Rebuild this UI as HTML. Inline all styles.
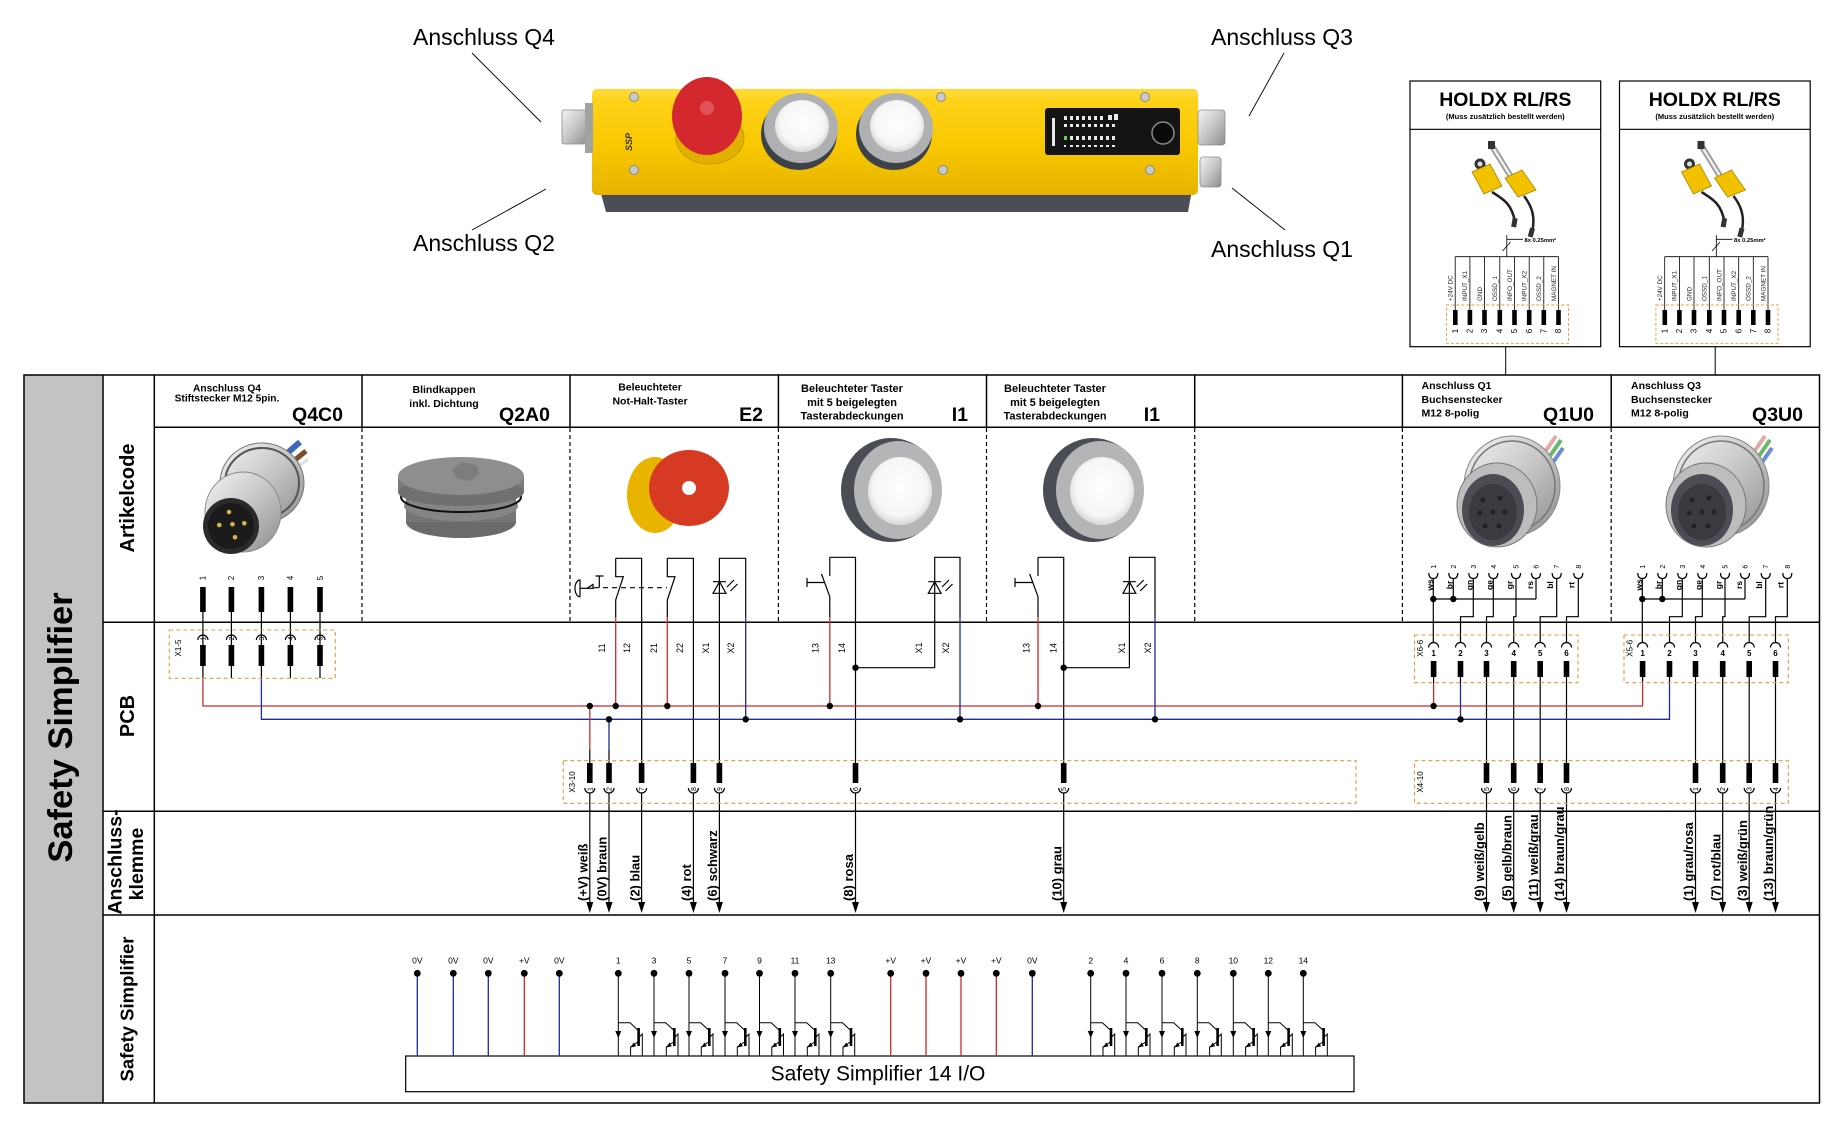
<!DOCTYPE html>
<html><head><meta charset="utf-8">
<style>
html,body{margin:0;padding:0;background:#fff;width:1840px;height:1126px;overflow:hidden}
svg{display:block}
text{font-family:"Liberation Sans",Arial,sans-serif}
</style></head><body>
<svg xmlns="http://www.w3.org/2000/svg" width="1840" height="1126" viewBox="0 0 1840 1126">
<defs>
 <linearGradient id="yel" x1="0" y1="0" x2="0" y2="1"><stop offset="0" stop-color="#ffd51f"/><stop offset="0.55" stop-color="#f8c700"/><stop offset="1" stop-color="#e6b400"/></linearGradient>
 <linearGradient id="silv" x1="0" y1="0" x2="1" y2="1"><stop offset="0" stop-color="#f4f4f4"/><stop offset="0.5" stop-color="#c6c6c6"/><stop offset="1" stop-color="#8c8c8c"/></linearGradient>
 <radialGradient id="wht" cx="0.5" cy="0.45" r="0.55"><stop offset="0" stop-color="#ffffff"/><stop offset="0.75" stop-color="#f6f6f6"/><stop offset="1" stop-color="#d8d8d8"/></radialGradient>
 <g id="tr" fill="none" stroke="#000" stroke-width="1">
  <line x1="0" y1="973" x2="0" y2="1056"/>
  <polyline points="0,1022.7 11.7,1022.7 19.5,1030"/>
  <polyline points="21,1037 24,1034 24,1056"/>
  <polyline points="21,1041 12.3,1047 12.3,1056"/>
  <polygon points="-3,1031 3,1031 0,1038" fill="#000" stroke="none"/>
  <rect x="19" y="1028" width="2.6" height="18" fill="#000" stroke="none"/>
  <polygon points="12.3,1047.5 15.5,1042.5 17.8,1046.2" fill="#000" stroke="none"/>
 </g>
</defs>
<rect width="1840" height="1126" fill="#fff"/>

<!-- ================= TOP PRODUCT ================= -->
<g font-size="23" fill="#000">
 <text x="484" y="45" text-anchor="middle">Anschluss Q4</text>
 <text x="484" y="251" text-anchor="middle">Anschluss Q2</text>
 <text x="1282" y="45" text-anchor="middle">Anschluss Q3</text>
 <text x="1282" y="257" text-anchor="middle">Anschluss Q1</text>
</g>
<g stroke="#000" stroke-width="0.9">
 <line x1="472" y1="53" x2="541" y2="122"/>
 <line x1="546" y1="189" x2="472" y2="230"/>
 <line x1="1284" y1="53" x2="1249" y2="116"/>
 <line x1="1232" y1="188" x2="1285" y2="230"/>
</g>
<path d="M600 190 L1192 190 L1188 212 L606 212 Z" fill="#4b4f55"/>
<rect x="592" y="89" width="606" height="106" rx="5" fill="url(#yel)"/>
<rect x="592" y="89" width="606" height="8" rx="4" fill="#ffdc40" opacity="0.6"/>
<rect x="562" y="110" width="26" height="34" rx="2" fill="url(#silv)" stroke="#8a8a8a" stroke-width="0.8"/>
<rect x="585" y="103" width="8" height="50" fill="#a2a2a2"/>
<rect x="1198" y="110" width="27" height="35" rx="3" fill="url(#silv)" stroke="#8a8a8a" stroke-width="0.8"/>
<rect x="1200" y="157" width="21" height="30" rx="3" fill="url(#silv)" stroke="#8a8a8a" stroke-width="0.8"/>
<g fill="#c9c9c9" stroke="#8a8a8a" stroke-width="1">
 <circle cx="634" cy="97" r="4.5"/><circle cx="634" cy="170" r="4.5"/>
 <circle cx="941" cy="97" r="4.5"/><circle cx="943" cy="170" r="4.5"/>
 <circle cx="1145" cy="97" r="4.5"/><circle cx="1150" cy="170" r="4.5"/>
</g>
<text transform="translate(632 142) rotate(-90)" font-size="9" font-weight="bold" font-style="italic" fill="#333" text-anchor="middle">SSP</text>
<ellipse cx="710" cy="138" rx="34" ry="26" fill="#e2b000" stroke="#c79b00" stroke-width="1"/>
<ellipse cx="707" cy="116" rx="35" ry="39" fill="#d3282d"/>
<circle cx="707" cy="108" r="7" fill="#e25358"/>
<ellipse cx="799" cy="134" rx="38" ry="36" fill="#3e4248"/>
<ellipse cx="801" cy="128" rx="37" ry="35" fill="#aeb0b2"/>
<ellipse cx="802" cy="126" rx="27" ry="26" fill="url(#wht)"/>
<ellipse cx="894" cy="134" rx="38" ry="36" fill="#3e4248"/>
<ellipse cx="896" cy="128" rx="37" ry="35" fill="#aeb0b2"/>
<ellipse cx="897" cy="126" rx="27" ry="26" fill="url(#wht)"/>
<rect x="1045" y="108" width="135" height="47" rx="3" fill="#141414"/>
<g fill="#e8e8e8">
 <rect x="1064" y="116" width="3" height="4"/><rect x="1070" y="116" width="3" height="4"/><rect x="1076" y="116" width="3" height="4"/><rect x="1082" y="116" width="3" height="4"/><rect x="1088" y="116" width="3" height="4"/><rect x="1094" y="116" width="3" height="4"/><rect x="1100" y="116" width="3" height="4"/><rect x="1108" y="115" width="4" height="5"/><rect x="1114" y="114" width="4" height="6"/>
 <rect x="1064" y="124" width="3" height="3"/><rect x="1070" y="124" width="3" height="3"/><rect x="1076" y="124" width="3" height="3"/><rect x="1082" y="124" width="3" height="3"/><rect x="1088" y="124" width="3" height="3"/><rect x="1094" y="124" width="3" height="3"/><rect x="1100" y="124" width="3" height="3"/><rect x="1106" y="124" width="3" height="3"/><rect x="1112" y="124" width="3" height="3"/>
 <rect x="1070" y="136" width="3" height="4"/><rect x="1076" y="136" width="3" height="4"/><rect x="1082" y="136" width="3" height="4"/><rect x="1088" y="136" width="3" height="4"/><rect x="1094" y="136" width="3" height="4"/><rect x="1100" y="136" width="3" height="4"/><rect x="1106" y="136" width="3" height="4"/><rect x="1112" y="136" width="3" height="4"/>
 <rect x="1064" y="145" width="2" height="2"/><rect x="1070" y="145" width="3" height="2"/><rect x="1076" y="145" width="3" height="2"/><rect x="1082" y="145" width="3" height="2"/><rect x="1088" y="145" width="3" height="2"/><rect x="1094" y="145" width="3" height="2"/><rect x="1100" y="145" width="3" height="2"/><rect x="1106" y="145" width="3" height="2"/><rect x="1112" y="145" width="3" height="2"/>
 <rect x="1052" y="118" width="3" height="28"/>
</g>
<rect x="1064" y="136" width="3" height="4" fill="#5ad24a"/>
<circle cx="1163" cy="133" r="11" fill="#0a0a0a" stroke="#8a8a8a" stroke-width="1.5"/>

<!-- ================= HOLDX BOXES ================= -->
<g transform="translate(1410 0)">
 <rect x="0" y="81" width="190.7" height="265.7" fill="#fff" stroke="#000" stroke-width="1.2"/>
 <line x1="0" y1="129.3" x2="190.7" y2="129.3" stroke="#000" stroke-width="1.2"/>
 <text x="95.3" y="106" font-size="19.5" font-weight="bold" text-anchor="middle">HOLDX RL/RS</text>
 <text x="95.3" y="119" font-size="7.5" font-weight="bold" text-anchor="middle">(Muss zusätzlich bestellt werden)</text>
 <line x1="82" y1="146" x2="103" y2="180" stroke="#9a9a9a" stroke-width="6"/>
 <line x1="82" y1="146" x2="103" y2="180" stroke="#eeeeee" stroke-width="2.5"/>
 <rect x="78" y="141" width="7" height="8" fill="#333"/>
 <circle cx="70" cy="164" r="5.5" fill="#333"/>
 <circle cx="70" cy="164" r="2.5" fill="#ddd"/>
 <polygon points="62,172 80,164 92,186 74,194" fill="#f2c200" stroke="#a88500" stroke-width="0.8"/>
 <polygon points="95,178 112,170 126,190 108,197" fill="#f2c200" stroke="#a88500" stroke-width="0.8"/>
 <path d="M82 192 C95 200 102 205 105 222" fill="none" stroke="#222" stroke-width="2.5"/>
 <path d="M114 196 C121 205 126 216 122 232" fill="none" stroke="#222" stroke-width="2.5"/>
 <rect x="102" y="218" width="5" height="9" fill="#333" transform="rotate(10 104 222)"/>
 <rect x="119" y="228" width="5" height="9" fill="#333" transform="rotate(15 121 232)"/>
 <g stroke="#000" stroke-width="0.8" fill="none">
  <line x1="96.8" y1="235" x2="96.8" y2="256.7"/>
  <line x1="92.5" y1="251" x2="100.5" y2="242"/>
  <line x1="96.8" y1="239.3" x2="113" y2="239.3"/>
  <line x1="45.2" y1="256.7" x2="148.5" y2="256.7"/>
  <line x1="45.2" y1="256.7" x2="45.2" y2="312"/><line x1="59.9" y1="256.7" x2="59.9" y2="312"/><line x1="74.5" y1="256.7" x2="74.5" y2="312"/><line x1="89.8" y1="256.7" x2="89.8" y2="312"/><line x1="104.5" y1="256.7" x2="104.5" y2="312"/><line x1="119.2" y1="256.7" x2="119.2" y2="312"/><line x1="133.8" y1="256.7" x2="133.8" y2="312"/><line x1="148.5" y1="256.7" x2="148.5" y2="312"/>
 </g>
 <text x="114.5" y="242" font-size="5.8" font-weight="bold">8x 0.25mm²</text>
 <g font-size="6.3" fill="#222">
  <text transform="translate(42.5 301) rotate(-90)">+24V DC</text>
  <text transform="translate(57.2 301) rotate(-90)">INPUT_X1</text>
  <text transform="translate(71.8 301) rotate(-90)">GND</text>
  <text transform="translate(87.1 301) rotate(-90)">OSSD_1</text>
  <text transform="translate(101.8 301) rotate(-90)">INFO_OUT</text>
  <text transform="translate(116.5 301) rotate(-90)">INPUT_X2</text>
  <text transform="translate(131.1 301) rotate(-90)">OSSD_2</text>
  <text transform="translate(145.8 301) rotate(-90)">MAGNET IN</text>
 </g>
 <rect x="36.4" y="305" width="122.1" height="38.3" fill="none" stroke="#e39a3b" stroke-width="0.9" stroke-dasharray="3 2"/>
 <g fill="#000">
  <rect x="43" y="310" width="4.6" height="15"/><rect x="57.6" y="310" width="4.6" height="15"/><rect x="72.2" y="310" width="4.6" height="15"/><rect x="87.5" y="310" width="4.6" height="15"/><rect x="102.2" y="310" width="4.6" height="15"/><rect x="116.9" y="310" width="4.6" height="15"/><rect x="131.5" y="310" width="4.6" height="15"/><rect x="146.2" y="310" width="4.6" height="15"/>
 </g>
 <g font-size="8" text-anchor="middle">
  <text transform="translate(47.8 331) rotate(-90)">1</text><text transform="translate(62.5 331) rotate(-90)">2</text><text transform="translate(77.1 331) rotate(-90)">3</text><text transform="translate(92.4 331) rotate(-90)">4</text><text transform="translate(107.1 331) rotate(-90)">5</text><text transform="translate(121.8 331) rotate(-90)">6</text><text transform="translate(136.4 331) rotate(-90)">7</text><text transform="translate(151.1 331) rotate(-90)">8</text>
 </g>
 <line x1="95.7" y1="346.7" x2="95.7" y2="375" stroke="#000" stroke-width="1"/>
</g>
<g transform="translate(1619.5 0)">
 <rect x="0" y="81" width="190.7" height="265.7" fill="#fff" stroke="#000" stroke-width="1.2"/>
 <line x1="0" y1="129.3" x2="190.7" y2="129.3" stroke="#000" stroke-width="1.2"/>
 <text x="95.3" y="106" font-size="19.5" font-weight="bold" text-anchor="middle">HOLDX RL/RS</text>
 <text x="95.3" y="119" font-size="7.5" font-weight="bold" text-anchor="middle">(Muss zusätzlich bestellt werden)</text>
 <line x1="82" y1="146" x2="103" y2="180" stroke="#9a9a9a" stroke-width="6"/>
 <line x1="82" y1="146" x2="103" y2="180" stroke="#eeeeee" stroke-width="2.5"/>
 <rect x="78" y="141" width="7" height="8" fill="#333"/>
 <circle cx="70" cy="164" r="5.5" fill="#333"/>
 <circle cx="70" cy="164" r="2.5" fill="#ddd"/>
 <polygon points="62,172 80,164 92,186 74,194" fill="#f2c200" stroke="#a88500" stroke-width="0.8"/>
 <polygon points="95,178 112,170 126,190 108,197" fill="#f2c200" stroke="#a88500" stroke-width="0.8"/>
 <path d="M82 192 C95 200 102 205 105 222" fill="none" stroke="#222" stroke-width="2.5"/>
 <path d="M114 196 C121 205 126 216 122 232" fill="none" stroke="#222" stroke-width="2.5"/>
 <rect x="102" y="218" width="5" height="9" fill="#333" transform="rotate(10 104 222)"/>
 <rect x="119" y="228" width="5" height="9" fill="#333" transform="rotate(15 121 232)"/>
 <g stroke="#000" stroke-width="0.8" fill="none">
  <line x1="96.8" y1="235" x2="96.8" y2="256.7"/>
  <line x1="92.5" y1="251" x2="100.5" y2="242"/>
  <line x1="96.8" y1="239.3" x2="113" y2="239.3"/>
  <line x1="45.2" y1="256.7" x2="148.5" y2="256.7"/>
  <line x1="45.2" y1="256.7" x2="45.2" y2="312"/><line x1="59.9" y1="256.7" x2="59.9" y2="312"/><line x1="74.5" y1="256.7" x2="74.5" y2="312"/><line x1="89.8" y1="256.7" x2="89.8" y2="312"/><line x1="104.5" y1="256.7" x2="104.5" y2="312"/><line x1="119.2" y1="256.7" x2="119.2" y2="312"/><line x1="133.8" y1="256.7" x2="133.8" y2="312"/><line x1="148.5" y1="256.7" x2="148.5" y2="312"/>
 </g>
 <text x="114.5" y="242" font-size="5.8" font-weight="bold">8x 0.25mm²</text>
 <g font-size="6.3" fill="#222">
  <text transform="translate(42.5 301) rotate(-90)">+24V DC</text>
  <text transform="translate(57.2 301) rotate(-90)">INPUT_X1</text>
  <text transform="translate(71.8 301) rotate(-90)">GND</text>
  <text transform="translate(87.1 301) rotate(-90)">OSSD_1</text>
  <text transform="translate(101.8 301) rotate(-90)">INFO_OUT</text>
  <text transform="translate(116.5 301) rotate(-90)">INPUT_X2</text>
  <text transform="translate(131.1 301) rotate(-90)">OSSD_2</text>
  <text transform="translate(145.8 301) rotate(-90)">MAGNET IN</text>
 </g>
 <rect x="36.4" y="305" width="122.1" height="38.3" fill="none" stroke="#e39a3b" stroke-width="0.9" stroke-dasharray="3 2"/>
 <g fill="#000">
  <rect x="43" y="310" width="4.6" height="15"/><rect x="57.6" y="310" width="4.6" height="15"/><rect x="72.2" y="310" width="4.6" height="15"/><rect x="87.5" y="310" width="4.6" height="15"/><rect x="102.2" y="310" width="4.6" height="15"/><rect x="116.9" y="310" width="4.6" height="15"/><rect x="131.5" y="310" width="4.6" height="15"/><rect x="146.2" y="310" width="4.6" height="15"/>
 </g>
 <g font-size="8" text-anchor="middle">
  <text transform="translate(47.8 331) rotate(-90)">1</text><text transform="translate(62.5 331) rotate(-90)">2</text><text transform="translate(77.1 331) rotate(-90)">3</text><text transform="translate(92.4 331) rotate(-90)">4</text><text transform="translate(107.1 331) rotate(-90)">5</text><text transform="translate(121.8 331) rotate(-90)">6</text><text transform="translate(136.4 331) rotate(-90)">7</text><text transform="translate(151.1 331) rotate(-90)">8</text>
 </g>
 <line x1="95.7" y1="346.7" x2="95.7" y2="375" stroke="#000" stroke-width="1"/>
</g>

<!-- ================= TABLE FRAME ================= -->
<rect x="24" y="375" width="79" height="728" fill="#c3c3c3"/>
<g stroke="#000" stroke-width="1.5" fill="none">
 <rect x="24" y="375" width="1795.5" height="728"/>
 <line x1="103" y1="375" x2="103" y2="1103"/>
 <line x1="154.3" y1="375" x2="154.3" y2="1103"/>
 <line x1="154.3" y1="427.3" x2="1819.5" y2="427.3"/>
 <line x1="103" y1="622.3" x2="1819.5" y2="622.3"/>
 <line x1="103" y1="811.3" x2="1819.5" y2="811.3"/>
 <line x1="103" y1="915" x2="1819.5" y2="915"/>
 <line x1="362" y1="375" x2="362" y2="427.3"/>
 <line x1="570" y1="375" x2="570" y2="427.3"/>
 <line x1="778.4" y1="375" x2="778.4" y2="427.3"/>
 <line x1="986.5" y1="375" x2="986.5" y2="427.3"/>
 <line x1="1194.7" y1="375" x2="1194.7" y2="427.3"/>
 <line x1="1402.4" y1="375" x2="1402.4" y2="427.3"/>
 <line x1="1611.2" y1="375" x2="1611.2" y2="427.3"/>
</g>
<g stroke="#000" stroke-width="1.2" stroke-dasharray="4 3">
 <line x1="362" y1="428" x2="362" y2="622"/>
 <line x1="570" y1="428" x2="570" y2="622"/>
 <line x1="778.4" y1="428" x2="778.4" y2="622"/>
 <line x1="986.5" y1="428" x2="986.5" y2="622"/>
 <line x1="1194.7" y1="428" x2="1194.7" y2="622"/>
 <line x1="1402.4" y1="428" x2="1402.4" y2="622"/>
 <line x1="1611.2" y1="428" x2="1611.2" y2="622"/>
</g>
<text transform="translate(72 727.5) rotate(-90)" font-size="34.5" font-weight="bold" text-anchor="middle">Safety Simplifier</text>
<g font-size="20" font-weight="bold" text-anchor="middle">
 <text transform="translate(134 498) rotate(-90)">Artikelcode</text>
 <text transform="translate(134 716) rotate(-90)">PCB</text>
 <text transform="translate(121.5 862) rotate(-90)" font-size="19.5">Anschluss-</text>
 <text transform="translate(143 864) rotate(-90)" font-size="19.5">klemme</text>
 <text transform="translate(133.5 1009) rotate(-90)" font-size="18.5">Safety Simplifier</text>
</g>

<!-- headers -->
<g font-weight="bold" fill="#000">
 <g font-size="10.2" text-anchor="middle">
  <text x="227" y="391.5">Anschluss Q4</text>
  <text x="227" y="401.5">Stiftstecker M12 5pin.</text>
 </g>
 <g font-size="10.5" text-anchor="middle">
  <text x="444" y="393">Blindkappen</text>
  <text x="444" y="407">inkl. Dichtung</text>
  <text x="650" y="390.5">Beleuchteter</text>
  <text x="650" y="404.5">Not-Halt-Taster</text>
 </g>
 <g font-size="11" text-anchor="middle">
  <text x="852" y="392">Beleuchteter Taster</text>
  <text x="852" y="406">mit 5 beigelegten</text>
  <text x="852" y="419.5">Tasterabdeckungen</text>
  <text x="1055" y="392">Beleuchteter Taster</text>
  <text x="1055" y="406">mit 5 beigelegten</text>
  <text x="1055" y="419.5">Tasterabdeckungen</text>
 </g>
 <g font-size="10.5">
  <text x="1421.5" y="389">Anschluss Q1</text>
  <text x="1421.5" y="403">Buchsenstecker</text>
  <text x="1421.5" y="416.5">M12 8-polig</text>
  <text x="1631" y="389">Anschluss Q3</text>
  <text x="1631" y="403">Buchsenstecker</text>
  <text x="1631" y="416.5">M12 8-polig</text>
 </g>
 <g font-size="19.5" text-anchor="end">
  <text x="343" y="421">Q4C0</text>
  <text x="550" y="421">Q2A0</text>
  <text x="763" y="421">E2</text>
  <text x="968" y="421">I1</text>
  <text x="1160" y="421">I1</text>
  <text x="1594" y="421">Q1U0</text>
  <text x="1803" y="421">Q3U0</text>
 </g>
</g>

<!-- ================= ARTIKEL IMAGES ================= -->
<path d="M268 470 L300 442" stroke="#3f66b8" stroke-width="6"/>
<path d="M274 477 L306 451" stroke="#7a4a2a" stroke-width="5"/>
<path d="M279 482 L308 459" stroke="#e0e0e0" stroke-width="3"/>
<ellipse cx="262" cy="483" rx="42" ry="40" fill="url(#silv)" stroke="#777" stroke-width="1"/>
<ellipse cx="262" cy="483" rx="37" ry="35" fill="none" stroke="#555" stroke-width="2"/>
<ellipse cx="243" cy="512" rx="38" ry="40" fill="url(#silv)" stroke="#888" stroke-width="1"/>
<circle cx="231" cy="526" r="28" fill="#2b2b2b"/>
<circle cx="231" cy="526" r="23" fill="#1b1b1b"/>
<g fill="#d9b54a">
 <circle cx="229" cy="512" r="2.3"/><circle cx="219.3" cy="525" r="2.3"/><circle cx="232.5" cy="524.3" r="2.3"/><circle cx="244.3" cy="523.3" r="2.3"/><circle cx="235" cy="537.3" r="2.3"/>
</g>
<ellipse cx="461" cy="522" rx="55" ry="16" fill="#6a6a6a"/>
<rect x="406" y="497" width="110" height="25" fill="#757575"/>
<ellipse cx="461" cy="506" rx="57" ry="15" fill="#858585"/>
<ellipse cx="461" cy="497" rx="60" ry="15" fill="none" stroke="#111" stroke-width="2"/>
<rect x="398" y="476" width="126" height="16" fill="#7b7b7b"/>
<ellipse cx="461" cy="492" rx="63" ry="14" fill="#707070"/>
<ellipse cx="461" cy="476" rx="63" ry="19" fill="#8e8e8e"/>
<polygon points="462,462 476,465 480,474 470,481 456,478 452,469" fill="#7d7d7d"/>
<ellipse cx="655" cy="495" rx="28" ry="38" fill="#e8b400"/>
<ellipse cx="689" cy="488" rx="40" ry="38" fill="#d63a22"/>
<circle cx="689" cy="488" r="7" fill="#fff"/>
<ellipse cx="891" cy="490" rx="50" ry="52" fill="#4a4e54"/>
<ellipse cx="898" cy="490" rx="44" ry="49" fill="#b3b5b7"/>
<ellipse cx="900" cy="491" rx="32" ry="34" fill="url(#wht)"/>
<ellipse cx="1093" cy="490" rx="50" ry="52" fill="#4a4e54"/>
<ellipse cx="1100" cy="490" rx="44" ry="49" fill="#b3b5b7"/>
<ellipse cx="1102" cy="491" rx="32" ry="34" fill="url(#wht)"/>
<g>
 <path d="M1538 462 L1556 436" stroke="#e5a8a8" stroke-width="4"/>
 <path d="M1543 466 L1561 440" stroke="#6ab86a" stroke-width="4"/>
 <path d="M1547 471 L1563 448" stroke="#6a8ed0" stroke-width="4"/>
 <ellipse cx="1512" cy="486" rx="48" ry="50" fill="url(#silv)" stroke="#888" stroke-width="1"/>
 <ellipse cx="1512" cy="486" rx="43" ry="45" fill="none" stroke="#777" stroke-width="1.5"/>
 <ellipse cx="1497" cy="505" rx="40" ry="42" fill="#bdbdbd" stroke="#777" stroke-width="1"/>
 <ellipse cx="1493" cy="510" rx="31" ry="36" fill="#4c4c54"/>
 <ellipse cx="1493" cy="512" rx="24" ry="28" fill="#3a3a40"/>
 <g fill="#222"><circle cx="1493" cy="512" r="2.5"/><circle cx="1483" cy="500" r="2.5"/><circle cx="1500" cy="498" r="2.5"/><circle cx="1505" cy="512" r="2.5"/><circle cx="1499" cy="526" r="2.5"/><circle cx="1485" cy="526" r="2.5"/><circle cx="1480" cy="513" r="2.5"/></g>
</g>
<g transform="translate(209 0)">
 <path d="M1538 462 L1556 436" stroke="#e5a8a8" stroke-width="4"/>
 <path d="M1543 466 L1561 440" stroke="#6ab86a" stroke-width="4"/>
 <path d="M1547 471 L1563 448" stroke="#6a8ed0" stroke-width="4"/>
 <ellipse cx="1512" cy="486" rx="48" ry="50" fill="url(#silv)" stroke="#888" stroke-width="1"/>
 <ellipse cx="1512" cy="486" rx="43" ry="45" fill="none" stroke="#777" stroke-width="1.5"/>
 <ellipse cx="1497" cy="505" rx="40" ry="42" fill="#bdbdbd" stroke="#777" stroke-width="1"/>
 <ellipse cx="1493" cy="510" rx="31" ry="36" fill="#4c4c54"/>
 <ellipse cx="1493" cy="512" rx="24" ry="28" fill="#3a3a40"/>
 <g fill="#222"><circle cx="1493" cy="512" r="2.5"/><circle cx="1483" cy="500" r="2.5"/><circle cx="1500" cy="498" r="2.5"/><circle cx="1505" cy="512" r="2.5"/><circle cx="1499" cy="526" r="2.5"/><circle cx="1485" cy="526" r="2.5"/><circle cx="1480" cy="513" r="2.5"/></g>
</g>

<!-- ================= SYMBOLS & WIRES ================= -->
<g stroke="#000" stroke-width="1.2" fill="none">
 <line x1="202.9" y1="611" x2="202.9" y2="678"/>
 <line x1="231.4" y1="611" x2="231.4" y2="678"/>
 <line x1="261.4" y1="611" x2="261.4" y2="678"/>
 <line x1="290.4" y1="611" x2="290.4" y2="678"/>
 <line x1="320" y1="611" x2="320" y2="678"/>
 <path d="M197.9 640 A5 5 0 0 1 207.9 640"/>
 <path d="M226.4 640 A5 5 0 0 1 236.4 640"/>
 <path d="M256.4 640 A5 5 0 0 1 266.4 640"/>
 <path d="M285.4 640 A5 5 0 0 1 295.4 640"/>
 <path d="M315 640 A5 5 0 0 1 325 640"/>

 <path d="M580 580 A5 8.3 0 0 0 580 596.7 Z"/>
 <path d="M580 588.3 H594"/>
 <path d="M587 588.3 L593 584.5 V588.3"/>
 <path d="M599.3 587.7 V576 M595.5 576 H603.5"/>
 <line x1="594" y1="587.7" x2="667" y2="587.7" stroke-dasharray="5 4"/>
 <path d="M615.7 558.3 V576.7 H623.3 L615.7 600 V617"/>
 <path d="M615.7 558.3 H641.6 V763"/>
 <path d="M667.3 558.3 V576.7 H675 L667.3 600 V617"/>
 <path d="M667.3 558.3 H693.4 V763"/>
 <path d="M719.4 763 V558.3 H745.7 V617"/>
 <path d="M713 581.7 H726 M713 593.3 H726 L719.5 581.7 Z"/>
 <path d="M727 587 L734 580 M730.5 591 L737.5 584"/>

 <path d="M807 578 V587 M807 582.5 H824.5"/>
 <path d="M829.8 557.3 V576"/>
 <path d="M829.8 617 V596.7 L821.5 574"/>
 <path d="M829.8 557.3 H855.5 V763"/>
 <path d="M934.7 667.7 V557.3 H960 V617"/>
 <path d="M928.3 581.7 H941.1 M928.3 593.3 H941.1 L934.7 581.7 Z"/>
 <path d="M942 587 L949 580 M945.5 591 L952.5 584"/>
 <path d="M855.5 667.7 H934.7"/>
 <path d="M1015 578 V587 M1015 582.5 H1032.7"/>
 <path d="M1038 557.3 V576"/>
 <path d="M1038 617 V596.7 L1029.7 574"/>
 <path d="M1038 557.3 H1063.7 V763"/>
 <path d="M1129.4 667.7 V557.3 H1155 V617"/>
 <path d="M1123 581.7 H1135.8 M1123 593.3 H1135.8 L1129.4 581.7 Z"/>
 <path d="M1136.7 587 L1143.7 580 M1140.2 591 L1147.2 584"/>
 <path d="M1063.7 667.7 H1129.4"/>

 <line x1="1433.3" y1="578" x2="1433.3" y2="642"/>
 <line x1="1453.3" y1="578" x2="1453.3" y2="599"/>
 <line x1="1536" y1="578" x2="1536" y2="599"/>
 <line x1="1433.3" y1="599" x2="1536" y2="599"/>
 <path d="M1473.3 578 V616.7 H1460.5 V642"/>
 <path d="M1493.3 578 V616.7 H1486.5 V642"/>
 <path d="M1516 578 V616.7 H1513.7 V642"/>
 <path d="M1556.7 578 V616.7 H1540.2 V642"/>
 <path d="M1578.3 578 V616.7 H1566.5 V642"/>
 <line x1="1642.3" y1="578" x2="1642.3" y2="642"/>
 <line x1="1662.3" y1="578" x2="1662.3" y2="599"/>
 <line x1="1745" y1="578" x2="1745" y2="599"/>
 <line x1="1642.3" y1="599" x2="1745" y2="599"/>
 <path d="M1682.3 578 V616.7 H1669.5 V642"/>
 <path d="M1702.3 578 V616.7 H1695.5 V642"/>
 <path d="M1725 578 V616.7 H1722.7 V642"/>
 <path d="M1765.7 578 V616.7 H1749.2 V642"/>
 <path d="M1787.3 578 V616.7 H1775.5 V642"/>
 <path d="M1428.8 573 Q1428.8 578.5 1433.3 578.5 Q1437.8 578.5 1437.8 573"/>
 <path d="M1448.8 573 Q1448.8 578.5 1453.3 578.5 Q1457.8 578.5 1457.8 573"/>
 <path d="M1468.8 573 Q1468.8 578.5 1473.3 578.5 Q1477.8 578.5 1477.8 573"/>
 <path d="M1488.8 573 Q1488.8 578.5 1493.3 578.5 Q1497.8 578.5 1497.8 573"/>
 <path d="M1511.5 573 Q1511.5 578.5 1516 578.5 Q1520.5 578.5 1520.5 573"/>
 <path d="M1531.5 573 Q1531.5 578.5 1536 578.5 Q1540.5 578.5 1540.5 573"/>
 <path d="M1552.2 573 Q1552.2 578.5 1556.7 578.5 Q1561.2 578.5 1561.2 573"/>
 <path d="M1573.8 573 Q1573.8 578.5 1578.3 578.5 Q1582.8 578.5 1582.8 573"/>
 <path d="M1637.8 573 Q1637.8 578.5 1642.3 578.5 Q1646.8 578.5 1646.8 573"/>
 <path d="M1657.8 573 Q1657.8 578.5 1662.3 578.5 Q1666.8 578.5 1666.8 573"/>
 <path d="M1677.8 573 Q1677.8 578.5 1682.3 578.5 Q1686.8 578.5 1686.8 573"/>
 <path d="M1697.8 573 Q1697.8 578.5 1702.3 578.5 Q1706.8 578.5 1706.8 573"/>
 <path d="M1720.5 573 Q1720.5 578.5 1725 578.5 Q1729.5 578.5 1729.5 573"/>
 <path d="M1740.5 573 Q1740.5 578.5 1745 578.5 Q1749.5 578.5 1749.5 573"/>
 <path d="M1761.2 573 Q1761.2 578.5 1765.7 578.5 Q1770.2 578.5 1770.2 573"/>
 <path d="M1782.8 573 Q1782.8 578.5 1787.3 578.5 Q1791.8 578.5 1791.8 573"/>
 <path d="M1428.6 647.5 A5 5 0 0 1 1438.6 647.5"/>
 <path d="M1455.5 647.5 A5 5 0 0 1 1465.5 647.5"/>
 <path d="M1481.5 647.5 A5 5 0 0 1 1491.5 647.5"/>
 <path d="M1508.7 647.5 A5 5 0 0 1 1518.7 647.5"/>
 <path d="M1535.2 647.5 A5 5 0 0 1 1545.2 647.5"/>
 <path d="M1561.5 647.5 A5 5 0 0 1 1571.5 647.5"/>
 <path d="M1637.6 647.5 A5 5 0 0 1 1647.6 647.5"/>
 <path d="M1664.5 647.5 A5 5 0 0 1 1674.5 647.5"/>
 <path d="M1690.5 647.5 A5 5 0 0 1 1700.5 647.5"/>
 <path d="M1717.7 647.5 A5 5 0 0 1 1727.7 647.5"/>
 <path d="M1744.2 647.5 A5 5 0 0 1 1754.2 647.5"/>
 <path d="M1770.5 647.5 A5 5 0 0 1 1780.5 647.5"/>
 <line x1="1433.6" y1="676" x2="1433.6" y2="683"/>
 <line x1="1460.5" y1="676" x2="1460.5" y2="683"/>
 <line x1="1486.5" y1="676" x2="1486.5" y2="763"/>
 <line x1="1513.7" y1="676" x2="1513.7" y2="763"/>
 <line x1="1540.2" y1="676" x2="1540.2" y2="763"/>
 <line x1="1566.5" y1="676" x2="1566.5" y2="763"/>
 <line x1="1642.6" y1="676" x2="1642.6" y2="683"/>
 <line x1="1669.5" y1="676" x2="1669.5" y2="683"/>
 <line x1="1695.5" y1="676" x2="1695.5" y2="763"/>
 <line x1="1722.7" y1="676" x2="1722.7" y2="763"/>
 <line x1="1749.2" y1="676" x2="1749.2" y2="763"/>
 <line x1="1775.5" y1="676" x2="1775.5" y2="763"/>
 <line x1="589.8" y1="750" x2="589.8" y2="763"/>
 <line x1="609" y1="750" x2="609" y2="763"/>
 <line x1="641.6" y1="617" x2="641.6" y2="763"/>

 <g>
  <path d="M584.8 788 A5 5 0 0 0 594.8 788"/><line x1="589.8" y1="793" x2="589.8" y2="904"/>
  <path d="M604 788 A5 5 0 0 0 614 788"/><line x1="609" y1="793" x2="609" y2="904"/>
  <path d="M636.6 788 A5 5 0 0 0 646.6 788"/><line x1="641.6" y1="793" x2="641.6" y2="904"/>
  <path d="M688.4 788 A5 5 0 0 0 698.4 788"/><line x1="693.4" y1="793" x2="693.4" y2="904"/>
  <path d="M714.4 788 A5 5 0 0 0 724.4 788"/><line x1="719.4" y1="793" x2="719.4" y2="904"/>
  <path d="M850.5 788 A5 5 0 0 0 860.5 788"/><line x1="855.5" y1="793" x2="855.5" y2="904"/>
  <path d="M1058.7 788 A5 5 0 0 0 1068.7 788"/><line x1="1063.7" y1="793" x2="1063.7" y2="904"/>
  <path d="M1481.5 788 A5 5 0 0 0 1491.5 788"/><line x1="1486.5" y1="793" x2="1486.5" y2="904"/>
  <path d="M1508.7 788 A5 5 0 0 0 1518.7 788"/><line x1="1513.7" y1="793" x2="1513.7" y2="904"/>
  <path d="M1535.2 788 A5 5 0 0 0 1545.2 788"/><line x1="1540.2" y1="793" x2="1540.2" y2="904"/>
  <path d="M1561.5 788 A5 5 0 0 0 1571.5 788"/><line x1="1566.5" y1="793" x2="1566.5" y2="904"/>
  <path d="M1690.5 788 A5 5 0 0 0 1700.5 788"/><line x1="1695.5" y1="793" x2="1695.5" y2="904"/>
  <path d="M1717.7 788 A5 5 0 0 0 1727.7 788"/><line x1="1722.7" y1="793" x2="1722.7" y2="904"/>
  <path d="M1744.2 788 A5 5 0 0 0 1754.2 788"/><line x1="1749.2" y1="793" x2="1749.2" y2="904"/>
  <path d="M1770.5 788 A5 5 0 0 0 1780.5 788"/><line x1="1775.5" y1="793" x2="1775.5" y2="904"/>
 </g>
</g>

<g fill="none" stroke-width="1.3">
 <path d="M202.9 678 V706 H1642.6 V683" stroke="#cc2b2b"/>
 <path d="M261.4 678 V719.3 H1669.5 V683" stroke="#1f2a9c"/>
 <path d="M589.8 706 V750" stroke="#cc2b2b"/>
 <path d="M609 719.3 V750" stroke="#1f2a9c"/>
 <path d="M615.7 617 V706" stroke="#cc2b2b"/>
 <path d="M667.3 617 V706" stroke="#cc2b2b"/>
 <path d="M745.7 617 V719.3" stroke="#1f2a9c"/>
 <path d="M829.8 617 V706" stroke="#cc2b2b"/>
 <path d="M960 617 V719.3" stroke="#1f2a9c"/>
 <path d="M1038 617 V706" stroke="#cc2b2b"/>
 <path d="M1155 617 V719.3" stroke="#1f2a9c"/>
 <path d="M1433.6 683 V706" stroke="#cc2b2b"/>
 <path d="M1460.5 683 V719.3" stroke="#1f2a9c"/>
</g>

<g fill="none" stroke="#e39a3b" stroke-width="1.1" stroke-dasharray="4 3">
 <rect x="169.3" y="630" width="166" height="48.3"/>
 <rect x="1414.5" y="635" width="163.5" height="47.7"/>
 <rect x="1624" y="635" width="164.3" height="47.7"/>
 <rect x="563.3" y="760.7" width="792.7" height="42.6"/>
 <rect x="1414.5" y="760.7" width="373.8" height="42.6"/>
</g>

<g fill="#000">
 <rect x="200.1" y="587" width="5.6" height="25"/><rect x="228.6" y="587" width="5.6" height="25"/><rect x="258.6" y="587" width="5.6" height="25"/><rect x="287.6" y="587" width="5.6" height="25"/><rect x="317.2" y="587" width="5.6" height="25"/>
 <rect x="200.1" y="645" width="5.6" height="21"/><rect x="228.6" y="645" width="5.6" height="21"/><rect x="258.6" y="645" width="5.6" height="21"/><rect x="287.6" y="645" width="5.6" height="21"/><rect x="317.2" y="645" width="5.6" height="21"/>
 <rect x="1430.8" y="661" width="5.6" height="16"/><rect x="1457.7" y="661" width="5.6" height="16"/><rect x="1483.7" y="661" width="5.6" height="16"/><rect x="1510.9" y="661" width="5.6" height="16"/><rect x="1537.4" y="661" width="5.6" height="16"/><rect x="1563.7" y="661" width="5.6" height="16"/>
 <rect x="1639.8" y="661" width="5.6" height="16"/><rect x="1666.7" y="661" width="5.6" height="16"/><rect x="1692.7" y="661" width="5.6" height="16"/><rect x="1719.9" y="661" width="5.6" height="16"/><rect x="1746.4" y="661" width="5.6" height="16"/><rect x="1772.7" y="661" width="5.6" height="16"/>
 <rect x="587" y="763" width="5.6" height="20"/><rect x="606.2" y="763" width="5.6" height="20"/><rect x="638.8" y="763" width="5.6" height="20"/><rect x="690.6" y="763" width="5.6" height="20"/><rect x="716.6" y="763" width="5.6" height="20"/><rect x="852.7" y="763" width="5.6" height="20"/><rect x="1060.9" y="763" width="5.6" height="20"/>
 <rect x="1483.7" y="763" width="5.6" height="20"/><rect x="1510.9" y="763" width="5.6" height="20"/><rect x="1537.4" y="763" width="5.6" height="20"/><rect x="1563.7" y="763" width="5.6" height="20"/>
 <rect x="1692.7" y="763" width="5.6" height="20"/><rect x="1719.9" y="763" width="5.6" height="20"/><rect x="1746.4" y="763" width="5.6" height="20"/><rect x="1772.7" y="763" width="5.6" height="20"/>
 <circle cx="589.8" cy="706" r="3.2"/><circle cx="615.7" cy="706" r="3.2"/><circle cx="667.3" cy="706" r="3.2"/><circle cx="829.8" cy="706" r="3.2"/><circle cx="1038" cy="706" r="3.2"/><circle cx="1433.6" cy="706" r="3.2"/>
 <circle cx="609" cy="719.3" r="3.2"/><circle cx="745.7" cy="719.3" r="3.2"/><circle cx="960" cy="719.3" r="3.2"/><circle cx="1155" cy="719.3" r="3.2"/><circle cx="1460.5" cy="719.3" r="3.2"/>
 <circle cx="855.5" cy="667.7" r="3.2"/><circle cx="1063.7" cy="667.7" r="3.2"/>
 <circle cx="1433.3" cy="599" r="3.2"/><circle cx="1453.3" cy="599" r="3.2"/>
 <circle cx="1642.3" cy="599" r="3.2"/><circle cx="1662.3" cy="599" r="3.2"/>
 <polygon points="586.3,902 593.3,902 589.8,913"/><polygon points="605.5,902 612.5,902 609,913"/><polygon points="638.1,902 645.1,902 641.6,913"/><polygon points="689.9,902 696.9,902 693.4,913"/><polygon points="715.9,902 722.9,902 719.4,913"/><polygon points="852,902 859,902 855.5,913"/><polygon points="1060.2,902 1067.2,902 1063.7,913"/>
 <polygon points="1483,902 1490,902 1486.5,913"/><polygon points="1510.2,902 1517.2,902 1513.7,913"/><polygon points="1536.7,902 1543.7,902 1540.2,913"/><polygon points="1563,902 1570,902 1566.5,913"/>
 <polygon points="1692,902 1699,902 1695.5,913"/><polygon points="1719.2,902 1726.2,902 1722.7,913"/><polygon points="1745.7,902 1752.7,902 1749.2,913"/><polygon points="1772,902 1779,902 1775.5,913"/>
</g>

<g font-size="8" text-anchor="middle" fill="#000">
 <text transform="translate(205.7 578) rotate(-90)">1</text><text transform="translate(234.2 578) rotate(-90)">2</text><text transform="translate(264.2 578) rotate(-90)">3</text><text transform="translate(293.2 578) rotate(-90)">4</text><text transform="translate(322.8 578) rotate(-90)">5</text>
 <text transform="translate(205.5 638.5) rotate(-90)" font-size="7">1</text><text transform="translate(234 638.5) rotate(-90)" font-size="7">2</text><text transform="translate(264 638.5) rotate(-90)" font-size="7">3</text><text transform="translate(293 638.5) rotate(-90)" font-size="7">4</text><text transform="translate(322.6 638.5) rotate(-90)" font-size="7">5</text>
 <text transform="translate(181 648) rotate(-90)">X1-5</text>
 <text transform="translate(575 782) rotate(-90)">X3-10</text>
 <text transform="translate(1423 782) rotate(-90)">X4-10</text>
 <text transform="translate(1423 648.3) rotate(-90)">X6-6</text>
 <text transform="translate(1632.5 648.3) rotate(-90)">X5-6</text>
</g>
<g font-size="7" text-anchor="middle">
 <text transform="translate(592.3 789) rotate(-90)">1</text><text transform="translate(611.5 789) rotate(-90)">2</text><text transform="translate(644.1 789) rotate(-90)">7</text><text transform="translate(695.9 789) rotate(-90)">8</text><text transform="translate(721.9 789) rotate(-90)">9</text><text transform="translate(858 789) rotate(-90)">6</text><text transform="translate(1066.2 789) rotate(-90)">5</text>
 <text transform="translate(1489 789) rotate(-90)">5</text><text transform="translate(1516.2 789) rotate(-90)">6</text><text transform="translate(1542.7 789) rotate(-90)">7</text><text transform="translate(1569 789) rotate(-90)">8</text>
 <text transform="translate(1698 789) rotate(-90)">1</text><text transform="translate(1725.2 789) rotate(-90)">2</text><text transform="translate(1751.7 789) rotate(-90)">3</text><text transform="translate(1778 789) rotate(-90)">4</text>
 <text transform="translate(1435.8 566.7) rotate(-90)">1</text><text transform="translate(1455.8 566.7) rotate(-90)">2</text><text transform="translate(1475.8 566.7) rotate(-90)">3</text><text transform="translate(1495.8 566.7) rotate(-90)">4</text><text transform="translate(1518.5 566.7) rotate(-90)">5</text><text transform="translate(1538.5 566.7) rotate(-90)">6</text><text transform="translate(1559.2 566.7) rotate(-90)">7</text><text transform="translate(1580.8 566.7) rotate(-90)">8</text>
 <text transform="translate(1644.8 566.7) rotate(-90)">1</text><text transform="translate(1664.8 566.7) rotate(-90)">2</text><text transform="translate(1684.8 566.7) rotate(-90)">3</text><text transform="translate(1704.8 566.7) rotate(-90)">4</text><text transform="translate(1727.5 566.7) rotate(-90)">5</text><text transform="translate(1747.5 566.7) rotate(-90)">6</text><text transform="translate(1768.2 566.7) rotate(-90)">7</text><text transform="translate(1789.8 566.7) rotate(-90)">8</text>
</g>
<g font-size="8.5" font-weight="bold" text-anchor="middle">
 <text transform="translate(1433 585) rotate(-90)">ws</text><text transform="translate(1452.3 585) rotate(-90)">br</text><text transform="translate(1472.3 585) rotate(-90)">gn</text><text transform="translate(1492.3 585) rotate(-90)">ge</text><text transform="translate(1512.3 585) rotate(-90)">gr</text><text transform="translate(1533 585) rotate(-90)">rs</text><text transform="translate(1553 585) rotate(-90)">bl</text><text transform="translate(1574.7 585) rotate(-90)">rt</text>
 <text transform="translate(1642 585) rotate(-90)">ws</text><text transform="translate(1661.3 585) rotate(-90)">br</text><text transform="translate(1681.3 585) rotate(-90)">gn</text><text transform="translate(1701.3 585) rotate(-90)">ge</text><text transform="translate(1721.3 585) rotate(-90)">gr</text><text transform="translate(1742 585) rotate(-90)">rs</text><text transform="translate(1762 585) rotate(-90)">bl</text><text transform="translate(1783.7 585) rotate(-90)">rt</text>
</g>
<g font-size="8" font-weight="bold" text-anchor="middle">
 <text x="1433.6" y="656">1</text><text x="1460.5" y="656">2</text><text x="1486.5" y="656">3</text><text x="1513.7" y="656">4</text><text x="1540.2" y="656">5</text><text x="1566.5" y="656">6</text>
 <text x="1642.6" y="656">1</text><text x="1669.5" y="656">2</text><text x="1695.5" y="656">3</text><text x="1722.7" y="656">4</text><text x="1749.2" y="656">5</text><text x="1775.5" y="656">6</text>
</g>
<g font-size="9" text-anchor="middle">
 <text transform="translate(605.2 648) rotate(-90)">11</text><text transform="translate(630.2 648) rotate(-90)">12</text><text transform="translate(657.2 648) rotate(-90)">21</text><text transform="translate(682.8 648) rotate(-90)">22</text><text transform="translate(708.9 648) rotate(-90)">X1</text><text transform="translate(733.8 648) rotate(-90)">X2</text>
 <text transform="translate(818.7 648) rotate(-90)">13</text><text transform="translate(844.8 648) rotate(-90)">14</text><text transform="translate(922.2 648) rotate(-90)">X1</text><text transform="translate(948.9 648) rotate(-90)">X2</text>
 <text transform="translate(1029.7 648) rotate(-90)">13</text><text transform="translate(1056.7 648) rotate(-90)">14</text><text transform="translate(1124.8 648) rotate(-90)">X1</text><text transform="translate(1151 648) rotate(-90)">X2</text>
</g>
<g font-size="13" font-weight="bold">
 <text transform="translate(587.5 901) rotate(-90)">(+V) weiß</text>
 <text transform="translate(606.7 901) rotate(-90)">(0V) braun</text>
 <text transform="translate(639.3 901) rotate(-90)">(2) blau</text>
 <text transform="translate(691.1 901) rotate(-90)">(4) rot</text>
 <text transform="translate(717.1 901) rotate(-90)">(6) schwarz</text>
 <text transform="translate(853.2 901) rotate(-90)">(8) rosa</text>
 <text transform="translate(1061.4 901) rotate(-90)">(10) grau</text>
 <text transform="translate(1484.2 901) rotate(-90)">(9) weiß/gelb</text>
 <text transform="translate(1511.4 901) rotate(-90)">(5) gelb/braun</text>
 <text transform="translate(1537.9 901) rotate(-90)">(11) weiß/grau</text>
 <text transform="translate(1564.2 901) rotate(-90)">(14) braun/grau</text>
 <text transform="translate(1693.2 901) rotate(-90)">(1) grau/rosa</text>
 <text transform="translate(1720.4 901) rotate(-90)">(7) rot/blau</text>
 <text transform="translate(1746.9 901) rotate(-90)">(3) weiß/grün</text>
 <text transform="translate(1773.2 901) rotate(-90)">(13) braun/grün</text>
</g>

<!-- ================= SAFETY SIMPLIFIER ROW ================= -->
<rect x="405.7" y="1056" width="948.3" height="35.7" fill="#fff" stroke="#000" stroke-width="1.2"/>
<text x="878" y="1080.5" font-size="21" text-anchor="middle">Safety Simplifier 14 I/O</text>
<g stroke-width="1.3">
 <line x1="417.3" y1="973" x2="417.3" y2="1056" stroke="#1f2a9c"/>
 <line x1="453.3" y1="973" x2="453.3" y2="1056" stroke="#1f2a9c"/>
 <line x1="488.3" y1="973" x2="488.3" y2="1056" stroke="#1f2a9c"/>
 <line x1="524.3" y1="973" x2="524.3" y2="1056" stroke="#cc2b2b"/>
 <line x1="559.3" y1="973" x2="559.3" y2="1056" stroke="#1f2a9c"/>
 <line x1="890.7" y1="973" x2="890.7" y2="1056" stroke="#cc2b2b"/>
 <line x1="926" y1="973" x2="926" y2="1056" stroke="#cc2b2b"/>
 <line x1="961" y1="973" x2="961" y2="1056" stroke="#cc2b2b"/>
 <line x1="996.3" y1="973" x2="996.3" y2="1056" stroke="#cc2b2b"/>
 <line x1="1032.3" y1="973" x2="1032.3" y2="1056" stroke="#1f2a9c"/>
</g>
<use href="#tr" x="618.3"/><use href="#tr" x="654"/><use href="#tr" x="689"/><use href="#tr" x="725"/><use href="#tr" x="759.5"/><use href="#tr" x="795"/><use href="#tr" x="830.7"/>
<use href="#tr" x="1090.7"/><use href="#tr" x="1126"/><use href="#tr" x="1162"/><use href="#tr" x="1197.3"/><use href="#tr" x="1233.3"/><use href="#tr" x="1268.3"/><use href="#tr" x="1303.3"/>
<g fill="#000">
 <circle cx="417.3" cy="973.3" r="3.4"/><circle cx="453.3" cy="973.3" r="3.4"/><circle cx="488.3" cy="973.3" r="3.4"/><circle cx="524.3" cy="973.3" r="3.4"/><circle cx="559.3" cy="973.3" r="3.4"/>
 <circle cx="618.3" cy="973.3" r="3.4"/><circle cx="654" cy="973.3" r="3.4"/><circle cx="689" cy="973.3" r="3.4"/><circle cx="725" cy="973.3" r="3.4"/><circle cx="759.5" cy="973.3" r="3.4"/><circle cx="795" cy="973.3" r="3.4"/><circle cx="830.7" cy="973.3" r="3.4"/>
 <circle cx="890.7" cy="973.3" r="3.4"/><circle cx="926" cy="973.3" r="3.4"/><circle cx="961" cy="973.3" r="3.4"/><circle cx="996.3" cy="973.3" r="3.4"/><circle cx="1032.3" cy="973.3" r="3.4"/>
 <circle cx="1090.7" cy="973.3" r="3.4"/><circle cx="1126" cy="973.3" r="3.4"/><circle cx="1162" cy="973.3" r="3.4"/><circle cx="1197.3" cy="973.3" r="3.4"/><circle cx="1233.3" cy="973.3" r="3.4"/><circle cx="1268.3" cy="973.3" r="3.4"/><circle cx="1303.3" cy="973.3" r="3.4"/>
</g>
<g font-size="8.5" text-anchor="middle">
 <text x="417.3" y="963.5">0V</text><text x="453.3" y="963.5">0V</text><text x="488.3" y="963.5">0V</text><text x="524.3" y="963.5">+V</text><text x="559.3" y="963.5">0V</text>
 <text x="618.3" y="963.5">1</text><text x="654" y="963.5">3</text><text x="689" y="963.5">5</text><text x="725" y="963.5">7</text><text x="759.5" y="963.5">9</text><text x="795" y="963.5">11</text><text x="830.7" y="963.5">13</text>
 <text x="890.7" y="963.5">+V</text><text x="926" y="963.5">+V</text><text x="961" y="963.5">+V</text><text x="996.3" y="963.5">+V</text><text x="1032.3" y="963.5">0V</text>
 <text x="1090.7" y="963.5">2</text><text x="1126" y="963.5">4</text><text x="1162" y="963.5">6</text><text x="1197.3" y="963.5">8</text><text x="1233.3" y="963.5">10</text><text x="1268.3" y="963.5">12</text><text x="1303.3" y="963.5">14</text>
</g>
</svg>
</body></html>
